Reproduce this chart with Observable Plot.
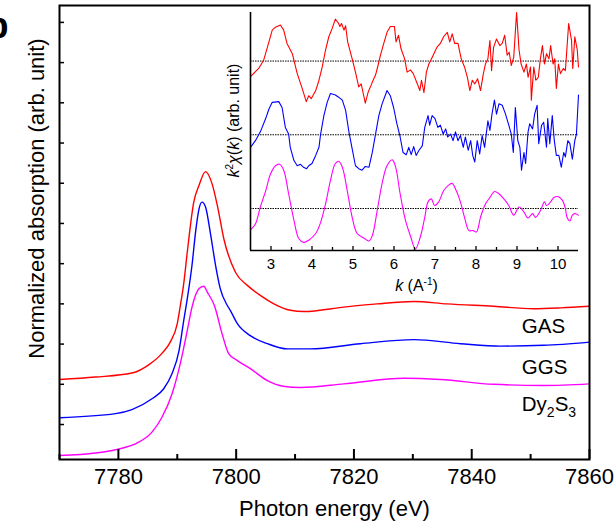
<!DOCTYPE html>
<html><head><meta charset="utf-8">
<script src="https://cdn.jsdelivr.net/npm/d3@7"></script>
<script src="https://cdn.jsdelivr.net/npm/@observablehq/plot@0.6"></script>
<style>
body{margin:0;background:#fff;}
#wrap{position:relative;width:614px;height:522px;overflow:hidden;background:#fff;}
#wrap svg{position:absolute;left:0;top:0;}
</style></head><body><div id="wrap"></div>
<script>
// ---------- main XANES data ----------
const gasE = [7770,7776.1,7782.3,7785.2,7787.4,7788.8,7790.0,7790.5,7791.1,7791.7,7792.8,7793.7,7794.8,7795.9,7796.8,7797.9,7799.9,7801.9,7804.1,7806.4,7809.2,7811.5,7818.3,7823.9,7830.2,7835.8,7843.7,7850.5,7855.1,7860];
const gasA = [0.112,0.118,0.128,0.149,0.177,0.205,0.251,0.294,0.351,0.429,0.553,0.595,0.629,0.599,0.545,0.462,0.378,0.346,0.321,0.300,0.284,0.281,0.292,0.300,0.306,0.300,0.294,0.288,0.290,0.294];
const ggsE = [7770,7779.5,7782.3,7785.7,7787.7,7789.1,7790.3,7791.1,7791.7,7792.5,7793.1,7793.7,7794.2,7794.8,7795.6,7796.5,7797.3,7798.5,7799.0,7800.2,7802.4,7805.3,7808.7,7812.6,7821.1,7830.2,7838.1,7844.9,7852.2,7860];
const ggsA = [0.017,0.027,0.037,0.064,0.089,0.126,0.184,0.259,0.313,0.396,0.478,0.537,0.553,0.541,0.478,0.396,0.338,0.296,0.284,0.251,0.221,0.201,0.188,0.188,0.201,0.211,0.201,0.195,0.197,0.205];
const dysE = [7770,7776.1,7780.6,7782.9,7785.7,7787.4,7789.1,7790.5,7791.7,7792.5,7793.7,7794.5,7795.1,7796.3,7797.6,7798.7,7800.2,7802.4,7805.3,7808.0,7810.9,7818.3,7828.5,7834.7,7843.7,7852.2,7860];
const dysA = [-0.077,-0.071,-0.059,-0.048,-0.019,0.018,0.076,0.151,0.234,0.292,0.338,0.344,0.329,0.296,0.226,0.177,0.159,0.139,0.109,0.095,0.092,0.101,0.115,0.112,0.100,0.097,0.101];
const seriesNames = ["GAS","GGS","Dy2S3"];
const xMajor = [7780,7800,7820,7840,7860];
const xMinor = [7770,7790,7810,7830,7850];
const yTicks = [0,0.1,0.2,0.3,0.4,0.5,0.6,0.7,0.8,0.9,1.0];

// ---------- inset EXAFS data ----------
const redK = [2.5,2.70,2.82,2.95,3.03,3.11,3.23,3.31,3.39,3.52,3.64,3.76,3.86,3.92,3.98,4.09,4.17,4.25,4.33,4.41,4.49,4.57,4.64,4.68,4.72,4.78,4.82,4.87,4.98,5.06,5.14,5.20,5.25,5.30,5.37,5.44,5.49,5.55,5.61,5.67,5.75,5.83,5.91,6.01,6.05,6.11,6.17,6.26,6.32,6.40,6.47,6.57,6.63,6.67,6.73,6.79,6.85,6.93,7.05,7.13,7.21,7.30,7.36,7.42,7.48,7.56,7.64,7.72,7.79,7.85,7.91,7.97,8.04,8.11,8.18,8.23,8.29,8.34,8.38,8.43,8.50,8.58,8.64,8.70,8.76,8.81,8.86,8.92,8.99,9.05,9.10,9.17,9.23,9.27,9.33,9.35,9.41,9.46,9.52,9.57,9.62,9.67,9.72,9.78,9.82,9.88,9.92,9.96,10.01,10.06,10.13,10.18,10.26,10.33,10.36,10.41,10.47,10.5];
const redChi = [-0.21,-0.10,0.01,0.26,0.42,0.46,0.49,0.42,0.24,0.10,-0.17,-0.37,-0.55,-0.47,-0.51,-0.40,-0.26,-0.08,0.15,0.33,0.44,0.57,0.52,0.47,0.51,0.42,0.48,0.26,0.03,-0.15,-0.35,-0.31,-0.44,-0.57,-0.42,-0.33,-0.26,-0.19,-0.06,0.08,0.24,0.39,0.47,0.47,0.26,0.35,0.17,0.03,-0.15,-0.12,-0.17,-0.31,-0.40,-0.26,-0.43,-0.15,-0.04,0.05,0.19,0.24,0.33,0.39,0.26,0.37,0.24,0.24,0.03,-0.08,-0.22,-0.40,-0.26,-0.31,-0.24,-0.40,-0.17,-0.04,0.03,0.28,-0.13,0.19,0.30,0.21,0.24,0.35,0.08,0.12,-0.06,0.05,0.66,0.15,-0.04,-0.15,-0.04,-0.22,-0.08,-0.53,-0.08,-0.26,-0.22,0.03,0.21,-0.04,0.10,0.03,0.21,-0.04,0.03,-0.37,-0.04,-0.17,-0.10,-0.13,0.51,0.28,-0.10,0.33,0.15,-0.08];
const blueK = [2.5,2.62,2.74,2.87,2.95,3.03,3.19,3.27,3.35,3.43,3.47,3.56,3.64,3.72,3.79,3.87,3.92,4.00,4.09,4.17,4.21,4.29,4.37,4.45,4.57,4.65,4.74,4.82,4.90,4.98,5.06,5.14,5.22,5.30,5.39,5.47,5.55,5.63,5.71,5.83,5.91,5.99,6.07,6.15,6.22,6.30,6.36,6.42,6.48,6.54,6.61,6.69,6.75,6.83,6.87,6.93,7.00,7.07,7.13,7.20,7.26,7.31,7.38,7.44,7.50,7.56,7.62,7.69,7.74,7.81,7.87,7.92,7.97,8.03,8.09,8.15,8.21,8.29,8.34,8.39,8.45,8.50,8.56,8.64,8.72,8.80,8.86,8.91,8.96,9.02,9.07,9.11,9.17,9.21,9.27,9.31,9.38,9.43,9.49,9.53,9.60,9.65,9.72,9.75,9.80,9.86,9.91,9.96,10.02,10.08,10.14,10.18,10.24,10.29,10.35,10.41,10.45,10.5];
const blueChi = [-0.17,-0.08,0.04,0.22,0.35,0.44,0.45,0.37,0.10,0.01,-0.17,-0.35,-0.42,-0.40,-0.44,-0.46,-0.42,-0.39,-0.28,-0.17,0.01,0.26,0.44,0.56,0.54,0.51,0.47,0.33,0.04,-0.19,-0.42,-0.46,-0.48,-0.43,-0.44,-0.24,0.01,0.26,0.42,0.60,0.53,0.37,0.15,-0.03,-0.24,-0.27,-0.17,-0.27,-0.16,-0.28,-0.21,-0.15,0.10,0.26,0.13,0.26,0.22,0.10,0.13,0.01,0.08,-0.03,0.01,-0.08,0.04,-0.08,-0.01,-0.17,-0.03,-0.21,-0.08,-0.28,-0.37,-0.08,-0.26,-0.01,-0.17,0.19,0.06,0.28,0.47,0.28,0.42,0.40,0.28,0.13,0.01,-0.24,0.37,-0.08,-0.17,-0.48,-0.24,-0.39,0.04,0.15,0.08,0.28,0.40,-0.12,0.13,0.17,-0.17,0.22,-0.12,0.26,-0.08,-0.28,-0.28,-0.44,-0.24,-0.30,-0.08,-0.12,-0.33,-0.08,0.01,0.54];
const magK = [2.5,2.62,2.74,2.87,2.99,3.11,3.21,3.31,3.43,3.56,3.68,3.80,3.92,4.09,4.21,4.33,4.45,4.56,4.65,4.74,4.86,4.98,5.10,5.26,5.39,5.47,5.59,5.71,5.83,5.96,6.04,6.15,6.28,6.40,6.52,6.65,6.75,6.83,6.91,6.99,7.09,7.21,7.34,7.42,7.52,7.62,7.72,7.83,7.93,8.01,8.11,8.23,8.34,8.45,8.56,8.68,8.80,8.92,9.05,9.17,9.27,9.38,9.45,9.57,9.67,9.72,9.82,9.90,10.01,10.11,10.18,10.22,10.29,10.35,10.41,10.5];
const magChi = [-0.29,-0.21,0.02,0.24,0.47,0.58,0.60,0.52,0.20,-0.16,-0.41,-0.46,-0.43,-0.34,-0.19,0.06,0.38,0.60,0.64,0.56,0.24,-0.12,-0.34,-0.40,-0.44,-0.37,-0.03,0.34,0.58,0.66,0.56,0.20,-0.16,-0.37,-0.55,-0.37,-0.12,0.09,0.13,0.04,0.09,0.24,0.32,0.34,0.24,0.09,-0.12,-0.30,-0.30,-0.32,-0.12,0.06,0.15,0.23,0.20,0.13,0.04,-0.09,0.02,-0.05,-0.13,-0.07,-0.12,-0.03,0.09,0.04,0.09,0.15,0.16,0.11,0.00,-0.12,-0.17,-0.09,-0.07,-0.09];
const insetOffsets = [2,1,0];   // GAS, GGS, Dy2S3 baselines
const kMajor = [3,4,5,6,7,8,9,10];
const kMinor = [3.5,4.5,5.5,6.5,7.5,8.5,9.5];

const RED = "#ff0000", BLUE = "#0000ff", MAG = "#ff00ff";
const FONT = "'Liberation Sans', Arial, Helvetica, sans-serif";
const pts = (xs, ys, off=0) => xs.map((x,i)=>({x, y: ys[i] + off}));

const main = Plot.plot({
  width:614, height:522, marginLeft:59, marginRight:25, marginTop:5, marginBottom:63,
  style:{fontFamily:FONT, background:"transparent", overflow:"visible", color:"#000"},
  x:{domain:[7770,7860]},
  y:{domain:[-0.087,1.042]},
  marks:[
    Plot.line(pts(gasE,gasA), {x:"x", y:"y", stroke:RED, strokeWidth:1.4, curve:"monotone-x"}),
    Plot.line(pts(ggsE,ggsA), {x:"x", y:"y", stroke:BLUE, strokeWidth:1.4, curve:"monotone-x"}),
    Plot.line(pts(dysE,dysA), {x:"x", y:"y", stroke:MAG, strokeWidth:1.4, curve:"monotone-x"}),
    Plot.axisX({ticks:xMajor, tickSize:0, tickPadding:9, fontSize:22, tickFormat:"d", label:null}),
    Plot.axisX({ticks:xMajor, tickSize:-10, tickFormat:()=>"", label:null, strokeWidth:2}),
    Plot.axisX({ticks:xMinor, tickSize:-5, tickFormat:()=>"", label:null, strokeWidth:2}),
    Plot.axisY({ticks:yTicks, tickSize:-5, tickFormat:()=>"", label:null, strokeWidth:1.5}),
    Plot.frame({strokeWidth:2}),
    Plot.text([seriesNames[0]], {x:7848.5, y:0.244, textAnchor:"start", fontSize:20.5}),
    Plot.text([seriesNames[1]], {x:7848.5, y:0.142, textAnchor:"start", fontSize:20.5}),
    Plot.text([seriesNames[2]], {x:7848.5, y:0.051, textAnchor:"start", fontSize:20.5}),
    Plot.text(["Photon energy (eV)"], {frameAnchor:"bottom", textAnchor:"middle", lineAnchor:"middle", dx:10, dy:49, fontSize:22}),
    Plot.text(["Normalized absorption (arb. unit)"], {frameAnchor:"left", textAnchor:"middle", lineAnchor:"middle", rotate:-90, dx:-23, dy:-34, fontSize:22}),
    Plot.text(["b"], {frameAnchor:"top-left", dx:-51, dy:7, textAnchor:"end", lineAnchor:"top", fontWeight:"bold", fontSize:36})
  ]
});

const inset = Plot.plot({
  width:614, height:522, marginLeft:250, marginRight:36, marginTop:12, marginBottom:272,
  style:{fontFamily:FONT, background:"transparent", overflow:"visible", color:"#000"},
  x:{domain:[2.5,10.5]},
  y:{domain:[-0.57,2.659], axis:null},
  marks:[
    Plot.ruleY(insetOffsets, {stroke:"#000", strokeWidth:1, strokeDasharray:"1.5,1"}),
    Plot.line(pts(redK,redChi,insetOffsets[0]), {x:"x", y:"y", stroke:RED, strokeWidth:1.1}),
    Plot.line(pts(blueK,blueChi,insetOffsets[1]), {x:"x", y:"y", stroke:BLUE, strokeWidth:1.1}),
    Plot.line(pts(magK,magChi,insetOffsets[2]), {x:"x", y:"y", stroke:MAG, strokeWidth:1.1, curve:"catmull-rom"}),
    Plot.ruleX([2.5], {strokeWidth:1.6}),
    Plot.ruleY([-0.57], {strokeWidth:1.6}),
    Plot.axisX({ticks:kMajor, tickSize:0, tickPadding:8, fontSize:15, tickFormat:"d", label:null}),
    Plot.axisX({ticks:kMajor, tickSize:-4, tickFormat:()=>"", label:null, strokeWidth:1.3}),
    Plot.axisX({ticks:kMinor, tickSize:-3, tickFormat:()=>"", label:null, strokeWidth:1.3}),
    Plot.text(["k (A-1)"], {frameAnchor:"bottom", textAnchor:"middle", lineAnchor:"middle", dx:2, dy:35, fontSize:16}),
    Plot.text(["k2χ(k) (arb. unit)"], {frameAnchor:"left", textAnchor:"middle", lineAnchor:"middle", rotate:-90, dx:-17, dy:-11, fontSize:16})
  ]
});

const wrap = document.getElementById("wrap");
wrap.appendChild(main);
wrap.appendChild(inset);

function rich(svg, plain, html){
  d3.select(svg).selectAll("text").filter(function(){return this.textContent===plain;}).html(html);
}
rich(main, "Dy2S3", 'Dy<tspan dy="6" font-size="14">2</tspan><tspan dy="-6">S</tspan><tspan dy="6" font-size="14">3</tspan>');
rich(inset, "k (A-1)", '<tspan font-style="italic">k</tspan> (A<tspan dy="-6" font-size="10">-1</tspan><tspan dy="6">)</tspan>');
rich(inset, "k2χ(k) (arb. unit)", '<tspan font-style="italic">k</tspan><tspan dy="-6" font-size="10">2</tspan><tspan dy="6" font-style="italic">χ</tspan>(<tspan font-style="italic">k</tspan>) (arb. unit)');
</script></body></html>
